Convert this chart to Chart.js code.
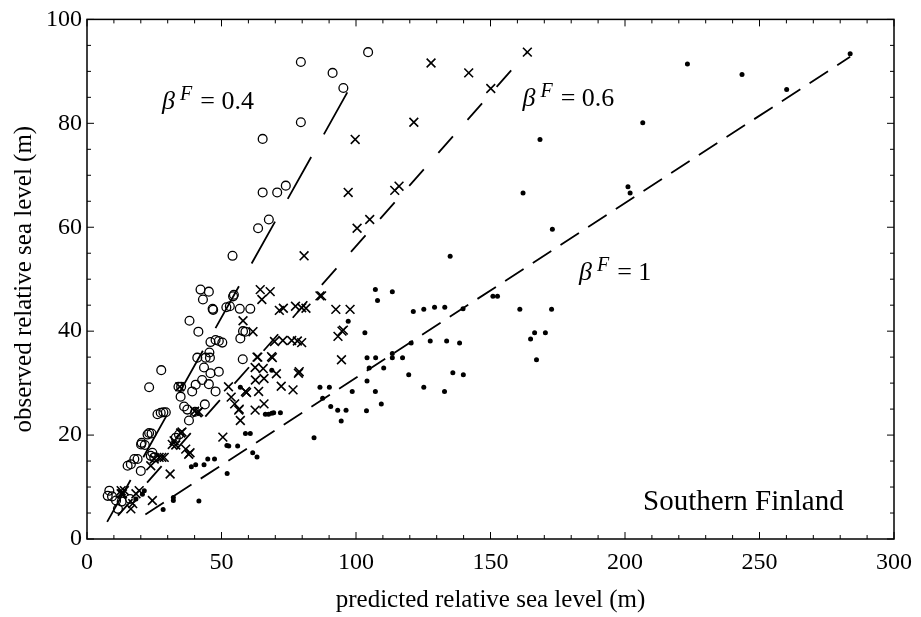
<!DOCTYPE html>
<html>
<head>
<meta charset="utf-8">
<script src="https://cdn.jsdelivr.net/npm/chart.js@4.4.0/dist/chart.umd.min.js"></script>
<style>
  html, body { margin: 0; padding: 0; background: #fff; }
</style>
</head>
<body>
<canvas id="seaChart" width="921" height="617"></canvas>
<script>
// axis ticks
const xTicks = [0, 50, 100, 150, 200, 250, 300];
const yTicks = [0, 20, 40, 60, 80, 100];

// beta F = 0.4 (open circles)
const circlePoints = [
  [79.5, 91.8], [91.3, 89.7], [95.3, 86.8], [104.5, 93.7], [79.5, 80.2], [65.3, 77.0],
  [65.3, 66.7], [70.7, 66.7], [73.9, 68.0], [63.6, 59.8], [67.6, 61.5], [54.1, 54.5],
  [42.2, 48.0], [45.3, 47.6], [43.1, 46.1], [46.9, 44.1], [46.7, 44.3], [54.3, 46.7],
  [54.6, 47.0], [51.8, 44.6], [53.1, 44.8], [56.8, 44.3], [60.7, 44.3], [38.1, 42.0],
  [41.4, 39.9], [58.0, 40.0], [58.9, 39.9], [57.0, 38.6], [45.9, 37.9], [47.8, 38.3],
  [49.0, 38.1], [50.3, 37.8], [41.0, 34.9], [44.1, 34.9], [45.7, 34.9], [45.5, 35.9],
  [57.9, 34.6], [43.5, 33.0], [45.9, 31.9], [49.0, 32.2], [27.6, 32.5], [23.1, 29.2],
  [34.0, 29.3], [35.0, 29.3], [40.4, 29.7], [42.8, 30.6], [45.3, 29.8], [39.1, 28.4],
  [47.8, 28.4], [34.8, 27.4], [36.1, 25.5], [37.3, 24.9], [37.9, 22.8], [43.8, 25.9],
  [40.2, 24.5], [26.2, 24.0], [27.4, 24.3], [28.4, 24.4], [29.3, 24.4], [23.1, 20.4],
  [22.5, 20.1], [24.0, 20.3], [34.2, 20.1], [33.0, 19.5], [20.3, 18.5], [21.5, 18.1],
  [20.1, 18.2], [24.3, 16.6], [25.0, 15.7], [23.7, 16.0], [15.1, 14.1], [16.3, 14.4],
  [17.6, 15.4], [18.8, 15.4], [20.0, 13.1], [8.3, 9.3], [7.7, 8.3], [9.3, 8.2],
  [10.8, 7.4], [11.5, 5.8], [12.9, 7.2], [16.0, 7.7]
];

// beta F = 0.6 (crosses)
const crossPoints = [
  [127.9, 91.6], [121.5, 80.2], [99.7, 76.9], [97.1, 66.7], [114.4, 67.1], [116.0, 67.9],
  [100.4, 59.8], [105.1, 61.5], [80.7, 54.5], [141.9, 89.7], [150.1, 86.7], [163.7, 93.7],
  [64.4, 48.0], [68.1, 47.6], [65.0, 46.1], [71.5, 44.0], [73.0, 44.4], [77.5, 44.8],
  [79.8, 44.5], [81.4, 44.4], [86.6, 46.8], [87.2, 46.8], [92.5, 44.2], [97.8, 44.2],
  [58.0, 42.0], [61.7, 39.9], [93.3, 39.0], [94.8, 40.0], [95.3, 40.2], [69.7, 38.0],
  [72.8, 38.2], [76.1, 38.2], [78.2, 38.1], [79.8, 37.8], [63.2, 35.0], [63.5, 35.0],
  [68.6, 35.1], [68.9, 34.9], [94.6, 34.5], [62.5, 33.0], [65.5, 32.8], [70.4, 31.8],
  [78.6, 31.9], [78.9, 32.2], [62.6, 30.6], [65.8, 30.9], [72.2, 29.4], [76.6, 28.7],
  [63.8, 28.4], [58.9, 28.4], [52.6, 29.3], [53.6, 27.3], [54.9, 26.0], [56.4, 24.8],
  [56.6, 25.0], [57.0, 22.8], [62.5, 24.8], [65.8, 26.0], [59.3, 28.2], [50.5, 19.6],
  [40.0, 24.6], [41.0, 24.3], [41.5, 24.5], [34.5, 29.3], [34.8, 20.4], [35.3, 20.6],
  [32.4, 18.9], [31.7, 18.2], [33.0, 18.1], [37.8, 16.3], [36.7, 17.3], [38.3, 16.6],
  [25.0, 15.4], [26.8, 15.7], [28.7, 15.7], [23.7, 14.1], [30.9, 12.5], [27.8, 15.7],
  [24.3, 7.4], [18.2, 8.7], [19.4, 9.3], [16.3, 5.8], [17.0, 6.8], [12.7, 9.3],
  [13.2, 8.7], [13.9, 9.3], [12.7, 8.7]
];

// beta F = 1 (dots)
const dotPoints = [
  [283.7, 93.4], [223.2, 91.4], [243.5, 89.4], [260.1, 86.5], [206.6, 80.1], [168.4, 76.9],
  [162.1, 66.6], [201.1, 67.8], [201.9, 66.6], [173.0, 59.6], [135.0, 54.4], [150.9, 46.7],
  [152.6, 46.7], [107.2, 48.0], [113.5, 47.6], [108.0, 45.9], [121.3, 43.8], [125.2, 44.2],
  [129.2, 44.6], [133.0, 44.6], [139.8, 44.3], [160.9, 44.2], [172.7, 44.2], [97.1, 41.9],
  [103.3, 39.7], [120.5, 37.7], [127.6, 38.1], [133.7, 38.1], [138.5, 37.7], [164.9, 38.5],
  [166.4, 39.7], [170.4, 39.7], [167.1, 34.5], [104.1, 34.9], [107.3, 34.9], [113.5, 35.7],
  [113.5, 34.9], [117.3, 34.9], [104.9, 32.9], [110.3, 32.9], [136.0, 32.0], [139.9, 31.6],
  [119.6, 31.6], [104.1, 30.4], [98.6, 28.4], [107.2, 28.4], [125.2, 29.2], [132.9, 28.4],
  [86.6, 29.2], [90.1, 29.2], [87.6, 27.1], [90.6, 25.5], [93.2, 24.8], [96.3, 24.8],
  [103.9, 24.7], [109.4, 26.0], [94.5, 22.7], [84.4, 19.5], [68.7, 32.5], [57.0, 29.2],
  [66.3, 24.0], [67.5, 24.0], [68.7, 24.2], [69.4, 24.3], [71.9, 24.3], [58.9, 20.3],
  [60.7, 20.3], [52.0, 18.0], [52.7, 17.9], [56.0, 17.9], [61.6, 16.6], [63.2, 15.8],
  [52.1, 12.6], [38.8, 13.9], [40.4, 14.3], [43.5, 14.3], [44.9, 15.4], [47.4, 15.4],
  [41.6, 7.3], [32.1, 8.0], [32.1, 7.4], [28.3, 5.7], [21.3, 9.3], [20.6, 8.6], [18.2, 7.7]
];

// dashed reference lines (end points)
const lineLow = [[7.5, 3.3], [100.6, 89.5]];
const lineMid = [[11.5, 4.5], [163.7, 93.7]];
const lineHigh = [[21.7, 4.7], [283.7, 92.8]];

// text labels: [x, y (baseline), value]
const betaLabels = [[27.9, 82.8, "0.4"], [161.9, 83.4, "0.6"], [182.9, 49.8, "1"]];

const SERIF = "'Liberation Serif', 'DejaVu Serif', serif";
const toXY = (pts) => pts.map((p) => ({ x: p[0], y: p[1] }));

const lineDataset = (pts, dash) => ({
  type: "line",
  data: toXY(pts),
  showLine: true,
  borderColor: "#000",
  borderWidth: 1.8,
  borderDash: dash,
  pointRadius: 0,
  fill: false,
});

// cadre, graduations vers l'intérieur et annotations
const framePlugin = {
  id: "frame",
  afterDatasetsDraw(chart) {
    const { ctx, chartArea: a, scales } = chart;
    ctx.save();
    ctx.strokeStyle = "#000";
    ctx.lineWidth = 1.5;
    ctx.strokeRect(a.left, a.top, a.right - a.left, a.bottom - a.top);

    ctx.lineWidth = 1;
    ctx.beginPath();
    for (let v = 0; v <= 300; v += 10) {
      const x = scales.x.getPixelForValue(v);
      const len = v % 50 === 0 ? 7 : 4;
      ctx.moveTo(x, a.bottom); ctx.lineTo(x, a.bottom - len);
      ctx.moveTo(x, a.top); ctx.lineTo(x, a.top + len);
    }
    for (let v = 0; v <= 100; v += 5) {
      const y = scales.y.getPixelForValue(v);
      const len = v % 20 === 0 ? 7 : 4;
      ctx.moveTo(a.left, y); ctx.lineTo(a.left + len, y);
      ctx.moveTo(a.right, y); ctx.lineTo(a.right - len, y);
    }
    ctx.stroke();

    ctx.fillStyle = "#000";
    ctx.textBaseline = "alphabetic";
    betaLabels.forEach(([xv, yv, val]) => {
      let x = scales.x.getPixelForValue(xv);
      const y = scales.y.getPixelForValue(yv);
      ctx.font = "italic 26px " + SERIF;
      ctx.fillText("\u03B2", x, y);
      x += ctx.measureText("\u03B2").width + 5;
      ctx.font = "italic 20px " + SERIF;
      ctx.fillText("F", x, y - 9);
      x += ctx.measureText("F").width + 8;
      ctx.font = "26px " + SERIF;
      ctx.fillText("= " + val, x, y);
    });

    ctx.font = "29px " + SERIF;
    ctx.textAlign = "right";
    ctx.fillText("Southern Finland", scales.x.getPixelForValue(281.3), scales.y.getPixelForValue(5.5));
    ctx.restore();
  },
};

const ctx = document.getElementById("seaChart").getContext("2d");
new Chart(ctx, {
  type: "scatter",
  data: {
    datasets: [
      {
        label: "0.4",
        data: toXY(circlePoints),
        pointStyle: "circle",
        pointRadius: 4.4,
        backgroundColor: "rgba(0,0,0,0)",
        borderColor: "#000",
        borderWidth: 1.3,
      },
      {
        label: "0.6",
        data: toXY(crossPoints),
        pointStyle: "crossRot",
        pointRadius: 6.2,
        borderColor: "#000",
        borderWidth: 1.6,
      },
      {
        label: "1",
        data: toXY(dotPoints),
        pointStyle: "circle",
        pointRadius: 2.5,
        backgroundColor: "#000",
        borderWidth: 0,
      },
      lineDataset(lineLow, [48, 26]),
      lineDataset(lineMid, [22, 22]),
      lineDataset(lineHigh, [22, 11]),
    ],
  },
  options: {
    responsive: false,
    animation: false,
    layout: { padding: { top: 15, right: 23, left: 0, bottom: 0 } },
    plugins: {
      legend: { display: false },
      tooltip: { enabled: false },
    },
    scales: {
      x: {
        type: "linear",
        min: 0,
        max: 300,
        afterFit: (scale) => { scale.height = 78; },
        afterBuildTicks: (scale) => { scale.ticks = xTicks.map((v) => ({ value: v })); },
        grid: { display: false, drawTicks: false },
        border: { display: false },
        ticks: { color: "#000", padding: 9, font: { family: SERIF, size: 24 } },
        title: {
          display: true,
          text: "predicted relative sea level (m)",
          color: "#000",
          padding: { top: 0, bottom: 2 },
          font: { family: SERIF, size: 25 },
        },
      },
      y: {
        type: "linear",
        min: 0,
        max: 100,
        afterFit: (scale) => { scale.width = 87; },
        afterBuildTicks: (scale) => { scale.ticks = yTicks.map((v) => ({ value: v })); },
        grid: { display: false, drawTicks: false },
        border: { display: false },
        ticks: { color: "#000", padding: 5, font: { family: SERIF, size: 24 } },
        title: {
          display: true,
          text: "observed relative sea level (m)",
          color: "#000",
          padding: { top: 9, bottom: 0 },
          font: { family: SERIF, size: 25 },
        },
      },
    },
  },
  plugins: [framePlugin],
});
</script>
</body>
</html>
